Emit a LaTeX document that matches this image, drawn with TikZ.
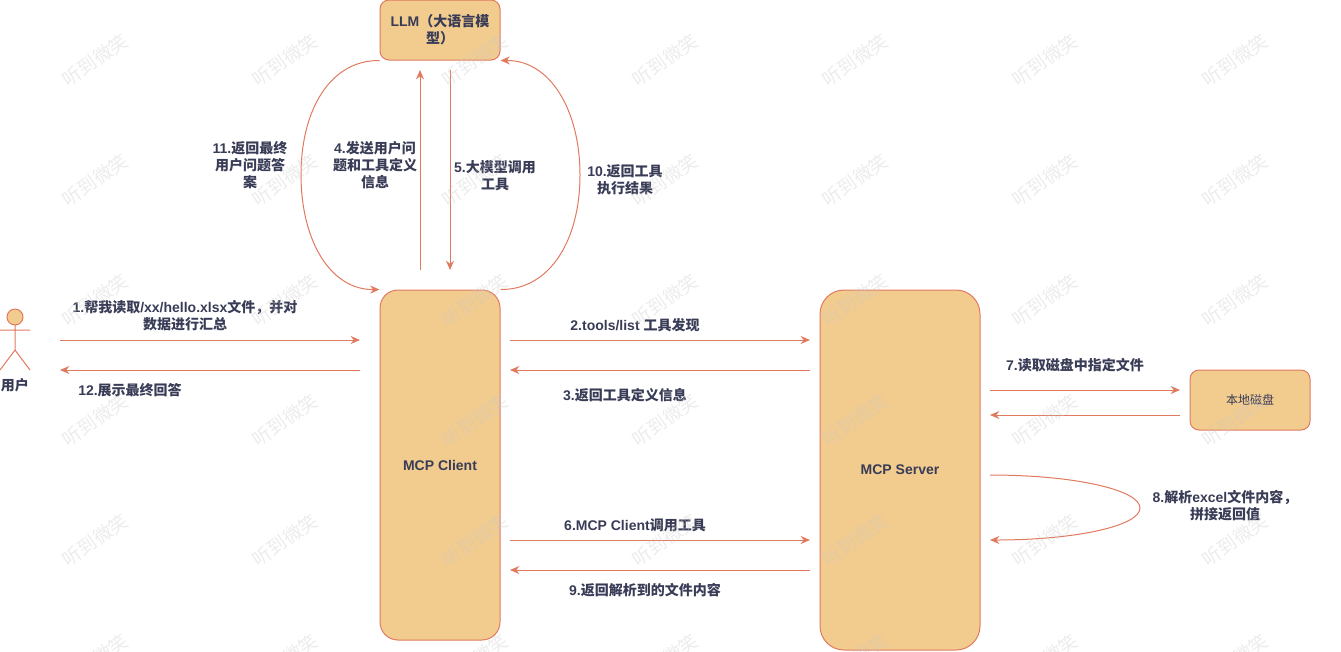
\documentclass[tikz,border=0pt]{standalone}
\usepackage{fontspec}
\usepackage{xcolor}
\usetikzlibrary{arrows.meta,positioning}
\setmainfont{Liberation Sans}
\newfontfamily\cjk{Noto Sans CJK SC}
\newcommand{\zh}[1]{{\cjk #1}}
\definecolor{linec}{HTML}{E07A5F}
\definecolor{fillc}{HTML}{F2CC8F}
\definecolor{textc}{HTML}{393C56}
\definecolor{markc}{HTML}{C8C8C8}
\tikzset{
  box/.style={draw=linec, fill=fillc, rounded corners=13.5pt, line width=0.75pt, inner sep=0pt, text=textc, align=center, font=\bfseries\fontsize{10.5}{12.75}\selectfont},
  note/.style={text=textc, align=center, inner sep=0pt, font=\bfseries\fontsize{10.5}{12.75}\selectfont},
  flow/.style={draw=linec, line width=0.75pt, -{Stealth[length=7pt,width=6pt]}},
  mark text/.style={text=markc, opacity=0.35, rotate=35, inner sep=0pt, font=\fontsize{14}{14}\selectfont}
}
\begin{document}
\begin{tikzpicture}[x=0.75pt,y=-0.75pt]
  \useasboundingbox (0,0) rectangle (1341,651);
  % boxes
  \node[box, minimum width=90pt, minimum height=45pt, rounded corners=6.75pt] (llm) at (440,30) {LLM\zh{（大语言模}\\\zh{型）}};
  \node[box, minimum width=90pt, minimum height=262.5pt] (client) at (440,465) {MCP Client};
  \node[box, minimum width=120pt, minimum height=270pt, rounded corners=18pt] (server) at (900,470) {MCP Server};
  \node[box, minimum width=90pt, minimum height=45pt, rounded corners=6.75pt, font=\fontsize{9}{11}\selectfont] (disk) at (1250,400) {\zh{本地磁盘}};
  % user
  \draw[linec, fill=fillc, line width=0.75pt] (15,317) circle (6pt);
  \draw[linec, line width=0.75pt] (15,325) -- (15,350) (0,330) -- (30,330) (0,370) -- (15,350) -- (30,370);
  \node[note] (user) at (15,385) {\zh{用户}};
  % free ends
  \coordinate (a1) at (60,340);   \coordinate (b1) at (360,340);
  \coordinate (a2) at (60,370);   \coordinate (b2) at (360,370);
  \coordinate (c1) at (510,340);  \coordinate (d1) at (810,340);
  \coordinate (c2) at (510,370);  \coordinate (d2) at (810,370);
  \coordinate (c3) at (510,540);  \coordinate (d3) at (810,540);
  \coordinate (c4) at (510,570);  \coordinate (d4) at (810,570);
  \coordinate (e1) at (990,390);  \coordinate (f1) at (1180,390);
  \coordinate (e2) at (990,415);  \coordinate (f2) at (1180,415);
  \coordinate (e3) at (990,475);  \coordinate (e4) at (990,540);
  \coordinate (g1) at (420,270);  \coordinate (g2) at (420,70);
  \coordinate (h1) at (450,70);   \coordinate (h2) at (450,270);
  % straight arrows
  \draw[flow] (a1) -- (b1);
  \draw[flow] (b2) -- (a2);
  \draw[flow] (c1) -- (d1);
  \draw[flow] (d2) -- (c2);
  \draw[flow] (c3) -- (d3);
  \draw[flow] (d4) -- (c4);
  \draw[flow] (e1) -- (f1);
  \draw[flow] (f2) -- (e2);
  \draw[flow] (g1) -- (g2);
  \draw[flow] (h1) -- (h2);
  % curved arrows
  \draw[flow] (llm.south west) .. controls (330,60) and (301,110) .. (301,175) .. controls (301,240) and (330,290) .. (client.north west);
  \draw[flow] (client.north east) .. controls (550,290) and (580,240) .. (580,175) .. controls (580,110) and (550,60) .. (llm.south east);
  \draw[flow] (e3) .. controls (1075,475) and (1140,490) .. (1140,508) .. controls (1140,526) and (1075,540) .. (e4);
  % labels
  \node[note] (t1) at (185,316) {1.\zh{帮我读取}/xx/hello.xlsx\zh{文件，并对}\\\zh{数据进行汇总}};
  \node[note] (t12) at (130,390) {12.\zh{展示最终回答}};
  \node[note] (t2) at (635,325) {2.tools/list \zh{工具发现}};
  \node[note] (t3) at (625,395) {3.\zh{返回工具定义信息}};
  \node[note] (t6) at (635,525) {6.MCP Client\zh{调用工具}};
  \node[note] (t9) at (645,590) {9.\zh{返回解析到的文件内容}};
  \node[note] (t7) at (1075,365) {7.\zh{读取磁盘中指定文件}};
  \node[note] (t8) at (1225,506) {8.\zh{解析}excel\zh{文件内容，}\\\zh{拼接返回值}};
  \node[note] (t10) at (625,180) {10.\zh{返回工具}\\\zh{执行结果}};
  \node[note] (t11) at (250,165) {11.\zh{返回最终}\\\zh{用户问题答}\\\zh{案}};
  \node[note] (t4) at (375,165) {4.\zh{发送用户问}\\\zh{题和工具定义}\\\zh{信息}};
  \node[note] (t5) at (495,176) {5.\zh{大模型调用}\\\zh{工具}};
  % watermark
  \foreach \x in {95,285,475,665,855,1045,1235}
    \foreach \y in {60,180,300,420,540,660}
      \node[mark text] (wm\x-\y) at (\x,\y) {\zh{听到微笑}};
\end{tikzpicture}
\end{document}
